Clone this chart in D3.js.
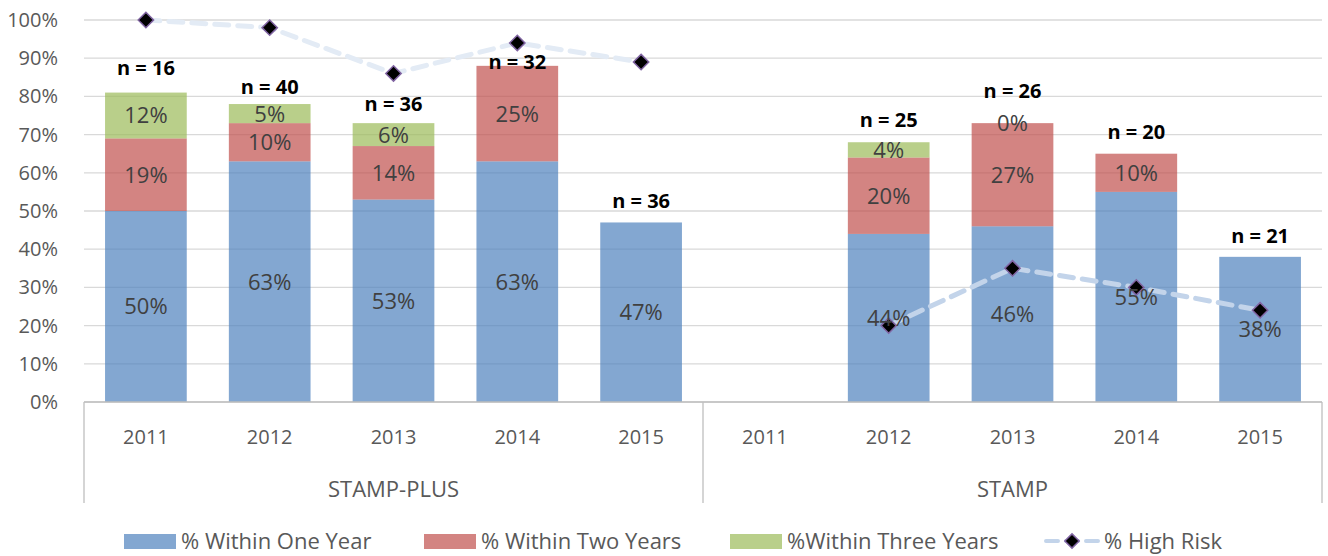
<!DOCTYPE html>
<html lang="en">
<head>
<meta charset="UTF-8">
<title>STAMP chart</title>
<script src="https://cdn.jsdelivr.net/npm/d3@7"></script>
<style>
  body { margin: 0; background: #fff; }
  svg text { font-family: "Open Sans", "Noto Sans", sans-serif; }
</style>
</head>
<body>
<div id="box"></div>
<script>
// data
var groups = ["STAMP-PLUS", "STAMP"];
var years = ["2011", "2012", "2013", "2014", "2015"];
var oneYear   = [50, 63, 53, 63, 47,   null, 44, 46, 55, 38];
var twoYears  = [19, 10, 14, 25, null, null, 20, 27, 10, null];
var threeYears = [12, 5, 6, null, null, null, 4, 0, null, null];
var highRisk  = [100, 98, 86, 94, 89,  null, 20, 35, 30, 24];
var nCounts   = [16, 40, 36, 32, 36,   null, 25, 26, 20, 21];
// where the "n =" boxes sit, in % of the axis
var nLabelAt  = [87.5, 82.5, 78, 89, 52.6, null, 74, 81.5, 70.7, 43.5];
var yTicks = [0, 10, 20, 30, 40, 50, 60, 70, 80, 90, 100];

var seriesNames = ["% Within One Year", "% Within Two Years", "%Within Three Years"];
var seriesVals = [oneYear, twoYears, threeYears];
var colors = ["#4F81BD", "#C0504D", "#9BBB59"];

var width = 1328, height = 556;
var plotL = 84, plotR = 1322, plotT = 20, plotB = 402;

var keys = [];
groups.forEach(function(g) { years.forEach(function(y) { keys.push(g + "|" + y); }); });

var x = d3.scaleBand().domain(keys).range([plotL, plotR])
    .paddingInner(0.34).paddingOuter(0.17);
var y = d3.scaleLinear().domain([0, 100]).range([plotB, plotT]);

var svg = d3.select("#box").append("svg")
    .attr("width", width).attr("height", height);

// gridlines
svg.append("g").selectAll("line").data(yTicks).enter().append("line")
    .attr("x1", plotL).attr("x2", plotR)
    .attr("y1", function(d) { return y(d); }).attr("y2", function(d) { return y(d); })
    .attr("stroke", "#d9d9d9").attr("stroke-width", 1.3);

// y axis labels
var yAxis = d3.axisLeft(y).tickValues(yTicks).tickSize(0).tickPadding(0)
    .tickFormat(function(d) { return d + "%"; });
var gy = svg.append("g").attr("transform", "translate(58,0)").call(yAxis);
gy.select(".domain").remove();
gy.selectAll("text").attr("font-size", 20).attr("fill", "#595959")
    .style("font-family", "'Open Sans', 'Noto Sans', sans-serif");

// stacked bars
var stackData = keys.map(function(k, i) {
  var base = 0, segs = [];
  seriesVals.forEach(function(arr, s) {
    var v = arr[i];
    if (v !== null) { segs.push({ key: k, s: s, v: v, y0: base, y1: base + v }); base += v; }
  });
  return segs;
});
var segs = d3.merge(stackData);

svg.append("g").selectAll("rect").data(segs).enter().append("rect")
    .attr("x", function(d) { return x(d.key); })
    .attr("width", x.bandwidth())
    .attr("y", function(d) { return y(d.y1); })
    .attr("height", function(d) { return y(d.y0) - y(d.y1); })
    .attr("fill", function(d) { return colors[d.s]; })
    .attr("fill-opacity", 0.7);

// axis box lines
var ax = svg.append("g").attr("stroke", "#bfbfbf").attr("stroke-width", 1.3);
ax.append("line").attr("x1", plotL).attr("x2", plotR).attr("y1", plotB).attr("y2", plotB);
[plotL, x(keys[5]) - x.step() * x.paddingInner() / 2, plotR].forEach(function(px) {
  ax.append("line").attr("x1", px).attr("x2", px).attr("y1", plotB).attr("y2", 503);
});

// year labels
svg.append("g").selectAll("text").data(keys).enter().append("text")
    .attr("x", function(d) { return x(d) + x.bandwidth() / 2; })
    .attr("y", 444).attr("text-anchor", "middle")
    .attr("font-size", 20).attr("fill", "#595959")
    .text(function(d) { return d.split("|")[1]; });

// group labels
svg.append("g").selectAll("text").data(groups).enter().append("text")
    .attr("x", function(d, i) {
      var a = x(keys[i * 5]), b = x(keys[i * 5 + 4]) + x.bandwidth();
      return (a + b) / 2;
    })
    .attr("y", 497).attr("text-anchor", "middle")
    .attr("font-size", 22).attr("fill", "#595959")
    .text(function(d) { return d; });

// high risk line, one piece per group
var lineColors = ["#e3ebf5", "#c3d4ea"];
var line = d3.line()
    .x(function(d) { return x(d.key) + x.bandwidth() / 2; })
    .y(function(d) { return y(d.v); });
var riskPts = keys.map(function(k, i) { return { key: k, v: highRisk[i], g: Math.floor(i / 5) }; })
    .filter(function(d) { return d.v !== null; });
groups.forEach(function(g, gi) {
  svg.append("path").datum(riskPts.filter(function(d) { return d.g === gi; }))
      .attr("d", line).attr("fill", "none")
      .attr("stroke", lineColors[gi]).attr("stroke-width", 5)
      .attr("stroke-dasharray", "14,9").attr("stroke-linecap", "round");
});
var diamond = d3.symbol().type(d3.symbolDiamond2).size(150);
svg.append("g").selectAll("path").data(riskPts).enter().append("path")
    .attr("d", diamond)
    .attr("transform", function(d) { return "translate(" + (x(d.key) + x.bandwidth() / 2) + "," + y(d.v) + ")"; })
    .attr("fill", "#000").attr("stroke", "#8064a2").attr("stroke-width", 1.5);

// segment labels
svg.append("g").selectAll("text").data(segs).enter().append("text")
    .attr("x", function(d) { return x(d.key) + x.bandwidth() / 2; })
    .attr("y", function(d) { return y((d.y0 + d.y1) / 2); })
    .attr("dy", "0.36em").attr("text-anchor", "middle")
    .attr("font-size", 22).attr("fill", "#404040")
    .text(function(d) { return d.v + "%"; });

// n = labels
svg.append("g").selectAll("text").data(keys.map(function(k, i) { return { key: k, n: nCounts[i], at: nLabelAt[i] }; })
      .filter(function(d) { return d.n !== null; }))
    .enter().append("text")
    .attr("x", function(d) { return x(d.key) + x.bandwidth() / 2; })
    .attr("y", function(d) { return y(d.at); })
    .attr("dy", "0.36em").attr("text-anchor", "middle")
    .attr("font-size", 20).attr("font-weight", "bold").attr("fill", "#000")
    .text(function(d) { return "n = " + d.n; });

// legend
var leg = svg.append("g");
var legX = [124, 424, 730];
seriesNames.forEach(function(name, i) {
  leg.append("rect").attr("x", legX[i]).attr("y", 534).attr("width", 52).attr("height", 15)
      .attr("fill", colors[i]).attr("fill-opacity", 0.7);
  leg.append("text").attr("x", legX[i] + 57).attr("y", 549)
      .attr("font-size", 22).attr("fill", "#595959").text(name);
});
leg.append("line").attr("x1", 1046).attr("x2", 1098).attr("y1", 541).attr("y2", 541)
    .attr("stroke", "#c3d4ea").attr("stroke-width", 4)
    .attr("stroke-dasharray", "12,8").attr("stroke-linecap", "round");
leg.append("path").attr("d", d3.symbol().type(d3.symbolDiamond2).size(130))
    .attr("transform", "translate(1072,541)")
    .attr("fill", "#000").attr("stroke", "#8064a2").attr("stroke-width", 1.5);
leg.append("text").attr("x", 1104).attr("y", 549)
    .attr("font-size", 22).attr("fill", "#595959").text("% High Risk");
</script>
</body>
</html>
